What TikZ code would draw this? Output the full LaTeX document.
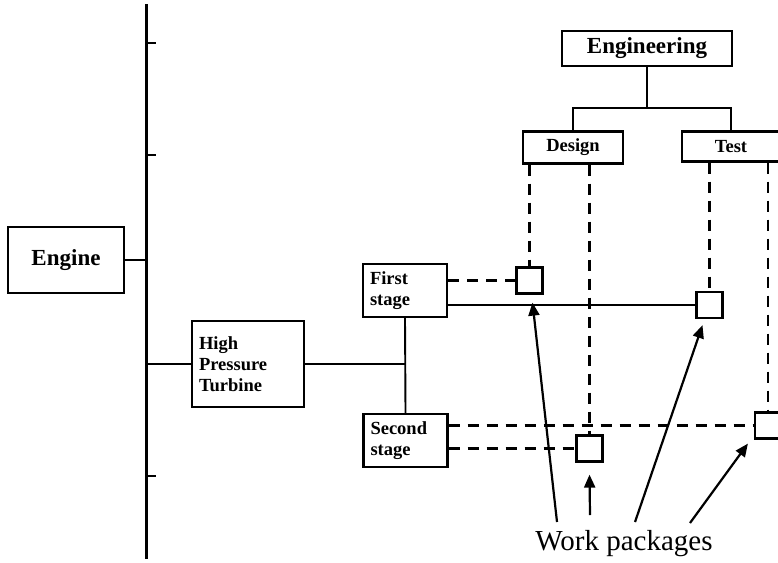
\documentclass[tikz,border=0pt]{standalone}
\usepackage{fontspec}
\setmainfont{Liberation Serif}
\usepackage{tikz}
\usetikzlibrary{arrows.meta,positioning,calc}
\tikzset{
  tree box/.style={draw,line width=2.2pt,inner sep=0pt,align=center,
    font=\bfseries\fontsize{18.5}{21}\selectfont},
  big box/.style={tree box,font=\bfseries\fontsize{23}{27}\selectfont},
  left box/.style={tree box,align=left,inner xsep=7pt},
  work pkg/.style={draw,line width=2.2pt,minimum size=26pt,inner sep=0pt},
  tree line/.style={line width=1.9pt},
  wbs dash/.style={line width=2.2pt,dash pattern=on 11pt off 8pt},
  wp arrow/.style={line width=2.2pt,-{Triangle[length=13pt,width=11pt]}}
}
\begin{document}
\begin{tikzpicture}[x=1pt,y=-1pt]
\useasboundingbox (0,0) rectangle (778,562);
\clip (0,0) rectangle (778,562);
% product side
\coordinate (spinetop) at (146,4);
\coordinate (spinebot) at (146,559);
\draw[line width=3pt] (spinetop) -- (spinebot);
\foreach \ty in {43,155,476} \draw[tree line] (146,\ty) -- (156,\ty);
\node[big box,minimum width=116pt,minimum height=66pt] (engine) at (66,260) {Engine};
\node[left box,text width=98pt,minimum height=86pt] (hpt) at (248,364) {High\\Pressure\\Turbine};
\node[left box,text width=70pt,minimum height=53pt] (first) at (405,290.5) {First\\stage};
\node[left box,text width=70pt,minimum height=53pt] (second) at (405.5,440.5) {Second\\stage};
\draw[line width=2.6pt] (engine.east) -- (engine.east -| spinetop);
\draw[tree line] (hpt.west) -- (hpt.west -| spinetop);
\draw[tree line] (hpt.east) -- (hpt.east -| first.south);
\draw[tree line] (first.south) -- (second.north);
% organisation side
\node[big box,minimum width=170pt,minimum height=35pt] (eng) at (647,48.5) {Engineering};
\node[tree box,minimum width=100pt,minimum height=32pt] (design) at (573,147.5) {Design};
\node[tree box,minimum width=98pt,minimum height=30pt] (test) at (731,146.5) {Test};
\draw[tree line] (eng.south) -- ++(0,41) coordinate (bus);
\draw[tree line] (design.north) |- (bus) -| (test.north);
% work packages
\node[work pkg] (wp1) at (529.5,280.5) {};
\node[work pkg] (wp2) at (709.5,305) {};
\node[work pkg] (wp3) at (589.5,448.5) {};
\node[work pkg] (wp4) at (768,425.5) {};
\draw[wbs dash] (first.east |- wp1) -- (wp1.west);
\draw[tree line] (first.east |- wp2) -- (wp2.west);
\draw[wbs dash] (second.east |- wp4) -- (wp4.west);
\draw[wbs dash] (second.east |- wp3) -- (wp3.west);
\draw[wbs dash] (design.south -| wp1) -- (wp1.north);
\draw[wbs dash] (design.south -| wp3) -- (wp3.north);
\draw[wbs dash] (test.south -| wp2) -- (wp2.north);
\draw[wbs dash] (test.south -| wp4) -- (wp4.north);
% label and pointers
\node[anchor=base,font=\fontsize{29}{33}\selectfont] (wplabel) at (624,550) {Work packages};
\coordinate (tail1) at (557,522);
\coordinate (tail2) at (590,515);
\coordinate (tail3) at (635,522);
\coordinate (tail4) at (690,523);
\draw[wp arrow] (tail1) -- ([xshift=3pt,yshift=-8pt]wp1.south);
\draw[wp arrow] (tail2) -- ([yshift=-12pt]wp3.south);
\draw[wp arrow] (tail3) -- ([xshift=-7pt,yshift=-6pt]wp2.south);
\draw[wp arrow] (tail4) -- ([xshift=-6pt,yshift=-4pt]wp4.south west);
\end{tikzpicture}
\end{document}
